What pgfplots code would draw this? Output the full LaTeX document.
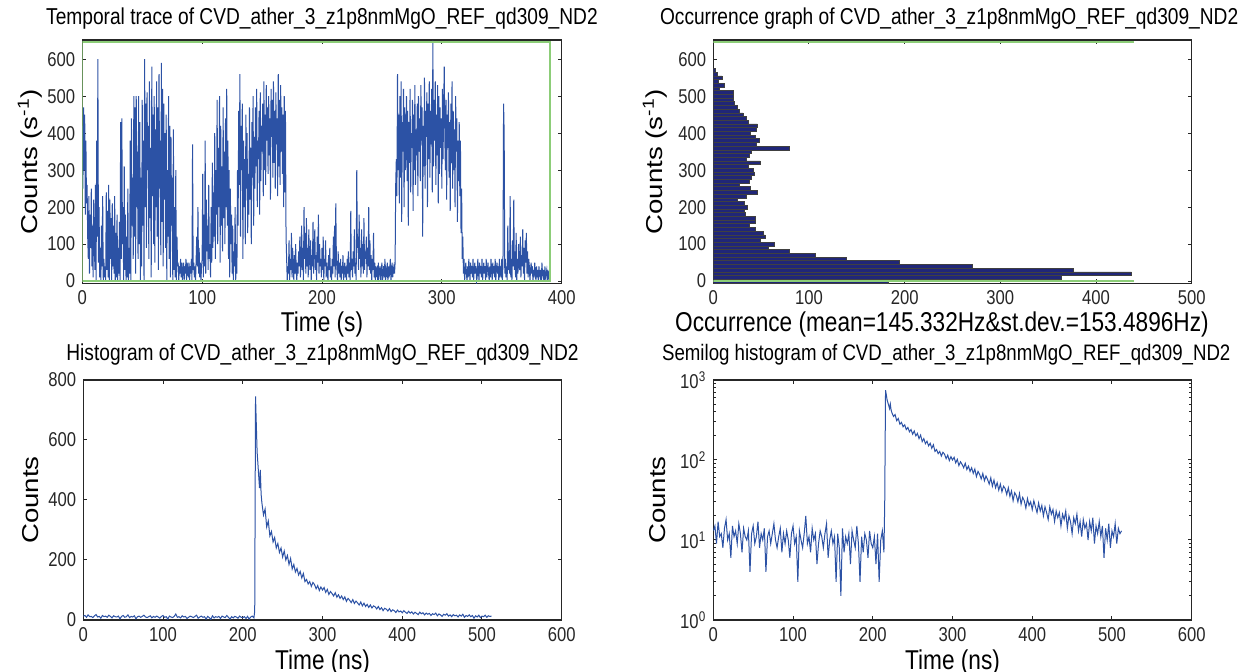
\documentclass[border=0pt]{standalone}
\usepackage{fontspec}
\setmainfont{Liberation Sans}
\newfontfamily\narrowfont[FakeStretch=0.833]{Liberation Sans}
\newfontfamily\widefont[FakeStretch=1.2]{Liberation Sans}
\usepackage{pgfplots}
\usepackage{pgfplotstable}
\pgfplotsset{compat=1.18}
\newcommand\tickfont{\narrowfont\fontsize{10}{12}\selectfont}
\newcommand\titlefont{\narrowfont\fontsize{11.5}{13}\selectfont}
\newcommand\xlabfont{\narrowfont\fontsize{13.6}{16}\selectfont}
\newcommand\ylabfont{\widefont\fontsize{11.5}{13}\selectfont}
\definecolor{traceblue}{RGB}{44,82,165}
\definecolor{barnavy}{RGB}{32,38,120}
\definecolor{mgreen}{RGB}{140,205,120}
\definecolor{axisgray}{RGB}{38,38,38}

\pgfplotstableread[row sep=\\]{
y\\
420\\250\\470\\300\\450\\180\\380\\210\\260\\120\\60\\230\\20\\180\\90\\250\\40\\150\\10\\220\\
130\\30\\260\\0\\380\\120\\600\\50\\200\\10\\90\\0\\150\\40\\230\\0\\60\\10\\40\\0\\
240\\30\\190\\10\\260\\0\\220\\60\\170\\0\\210\\40\\150\\20\\230\\0\\130\\10\\180\\0\\
90\\20\\160\\0\\430\\60\\440\\100\\200\\0\\310\\30\\180\\0\\120\\10\\250\\0\\90\\20\\
380\\0\\440\\150\\280\\60\\500\\120\\470\\20\\500\\200\\350\\60\\500\\100\\430\\0\\280\\40\\
490\\150\\380\\0\\600\\200\\480\\90\\510\\300\\420\\60\\540\\170\\360\\10\\580\\230\\450\\100\\
500\\50\\410\\200\\540\\120\\470\\30\\560\\250\\380\\70\\590\\160\\520\\40\\480\\220\\400\\90\\
450\\0\\300\\120\\500\\60\\420\\10\\390\\150\\280\\0\\410\\30\\200\\10\\300\\0\\120\\40\\
50\\0\\40\\20\\60\\10\\50\\0\\30\\50\\0\\40\\20\\60\\0\\50\\30\\10\\50\\0\\
40\\20\\60\\0\\370\\30\\50\\10\\40\\0\\60\\120\\40\\200\\20\\90\\10\\50\\0\\40\\
60\\290\\10\\180\\40\\380\\20\\220\\80\\150\\30\\260\\60\\100\\10\\200\\50\\320\\90\\240\\
120\\400\\60\\300\\180\\490\\100\\360\\200\\500\\50\\420\\150\\310\\80\\470\\170\\350\\100\\440\\
200\\520\\150\\380\\60\\300\\10\\250\\100\\180\\20\\150\\0\\80\\40\\200\\0\\100\\20\\300\\
150\\460\\260\\560\\120\\420\\300\\480\\60\\380\\200\\330\\100\\450\\250\\400\\130\\290\\180\\470\\
220\\360\\100\\430\\280\\500\\150\\390\\250\\470\\310\\520\\200\\380\\330\\460\\180\\510\\270\\420\\
350\\480\\230\\540\\300\\450\\260\\530\\380\\470\\290\\500\\340\\440\\220\\520\\390\\490\\280\\540\\
320\\460\\250\\510\\370\\440\\230\\560\\310\\490\\260\\530\\350\\470\\290\\450\\200\\500\\240\\460\\
120\\60\\0\\40\\20\\110\\0\\60\\30\\130\\10\\90\\40\\0\\70\\20\\100\\30\\0\\50\\
20\\80\\40\\120\\10\\60\\150\\30\\90\\0\\200\\60\\130\\20\\170\\40\\90\\10\\140\\60\\
30\\110\\0\\70\\40\\160\\20\\90\\140\\30\\70\\0\\120\\50\\180\\20\\100\\40\\60\\10\\
90\\30\\120\\0\\60\\40\\110\\10\\50\\20\\0\\70\\30\\90\\10\\40\\0\\60\\20\\120\\
40\\150\\10\\210\\60\\30\\0\\80\\20\\50\\10\\60\\0\\40\\20\\70\\0\\30\\50\\10\\
40\\0\\60\\20\\80\\10\\50\\0\\190\\30\\60\\10\\80\\40\\140\\20\\50\\0\\300\\90\\
120\\30\\180\\60\\90\\10\\140\\40\\100\\20\\170\\30\\80\\60\\120\\10\\90\\40\\200\\30\\
110\\20\\70\\0\\60\\30\\130\\10\\50\\0\\40\\20\\30\\0\\50\\10\\20\\40\\0\\30\\
50\\0\\20\\40\\10\\60\\0\\30\\20\\50\\0\\40\\10\\30\\60\\0\\20\\50\\10\\30\\
40\\20\\50\\260\\330\\230\\560\\300\\450\\210\\500\\280\\540\\160\\430\\350\\520\\200\\470\\300\\
380\\500\\270\\460\\150\\430\\320\\520\\240\\400\\360\\490\\190\\450\\300\\530\\260\\410\\340\\480\\
230\\500\\350\\440\\270\\530\\380\\470\\120\\420\\310\\550\\250\\460\\390\\510\\200\\480\\330\\540\\
280\\460\\370\\520\\240\\650\\310\\490\\380\\540\\260\\450\\340\\530\\210\\500\\290\\470\\360\\440\\
250\\520\\330\\470\\580\\380\\300\\490\\220\\450\\360\\510\\280\\430\\190\\480\\320\\540\\250\\460\\
300\\410\\200\\500\\350\\440\\160\\380\\270\\430\\230\\380\\130\\250\\60\\120\\20\\60\\0\\30\\
50\\20\\0\\40\\10\\60\\30\\0\\50\\20\\40\\10\\60\\0\\30\\50\\20\\40\\0\\10\\
60\\30\\0\\50\\20\\40\\10\\60\\0\\30\\50\\20\\40\\0\\60\\10\\30\\50\\20\\0\\
40\\10\\60\\30\\0\\50\\20\\40\\10\\60\\0\\30\\50\\20\\40\\0\\60\\10\\30\\20\\
60\\0\\50\\480\\400\\20\\60\\10\\40\\0\\150\\30\\80\\20\\230\\10\\60\\0\\110\\40\\
220\\30\\80\\10\\130\\0\\60\\20\\100\\40\\30\\120\\10\\70\\40\\140\\20\\90\\0\\110\\
50\\130\\20\\80\\10\\60\\40\\0\\30\\50\\20\\40\\0\\30\\10\\50\\20\\0\\40\\10\\
30\\0\\40\\20\\10\\30\\0\\50\\20\\10\\30\\0\\40\\10\\20\\30\\0\\20\\10\\30\\
}\tracedata

\pgfplotstableread{
x y
0 13
2 15
4 9
6 17
8 11
10 12
12 8
14 14
16 18
18 10
20 12
22 6
24 15
26 11
28 13
30 9
32 16
34 12
36 7
38 14
40 11
42 10
44 13
46 4
48 12
50 15
52 9
54 11
56 17
58 8
60 12
62 10
64 14
66 4
68 11
70 13
72 9
74 12
76 16
78 10
80 8
82 11
84 14
86 7
88 12
90 9
92 13
94 10
96 6
98 12
100 15
102 9
104 11
106 3
108 13
110 10
112 8
114 12
116 20
118 9
120 11
122 7
124 14
126 10
128 12
130 5
132 9
134 13
136 11
138 8
140 12
142 16
144 6
146 10
148 13
150 9
152 11
154 3
156 12
158 8
160 2
162 14
164 7
166 11
168 9
170 12
172 5
174 13
176 10
178 8
180 15
182 9
184 3
186 11
188 7
190 12
192 10
194 6
196 13
198 9
200 8
202 11
204 5
206 12
208 3
210 10
212 13
214 7
215 30
216 745
217 650
218 560
219 520
220 480
221 440
222 500
223 420
224 390
226 350
228 370
230 310
232 330
234 280
236 295
238 260
240 275
242 240
244 255
246 225
248 240
250 210
252 230
254 200
256 215
258 185
260 205
262 170
264 185
266 160
268 172
270 150
272 162
274 140
276 155
278 128
280 135
282 120
284 128
286 112
288 125
290 118
292 104
294 115
296 98
298 110
300 100
302 108
304 92
306 102
308 85
310 95
312 88
314 80
316 91
318 76
320 84
322 72
324 80
326 68
328 77
330 62
332 72
334 66
336 58
338 68
340 55
342 63
344 57
346 50
348 60
350 47
352 56
354 45
356 52
358 42
360 50
362 40
364 47
366 44
368 37
370 45
372 35
374 41
376 31
378 39
380 36
382 30
384 38
386 28
388 34
390 31
392 25
394 33
396 27
398 30
400 24
402 31
404 26
406 22
408 29
410 23
412 27
414 20
416 26
418 22
420 18
422 26
424 21
426 24
428 17
430 23
432 19
434 22
436 15
438 21
440 18
442 23
444 14
446 20
448 17
450 12
452 19
454 16
456 21
458 13
460 17
462 11
464 18
466 14
468 16
470 10
472 17
474 13
476 19
478 9
480 15
482 12
484 17
486 11
488 15
490 6
492 14
494 10
496 16
498 8
500 13
502 11
504 16
506 9
508 14
510 12
512 13
}\decaydata

\pgfplotsset{
  mstyle/.style={
    scale only axis,
    axis line style={axisgray, line width=0.6pt},
    tick style={axisgray, line width=0.5pt},
    tick align=inside,
    major tick length=2pt,
    minor tick length=1.3pt,
    tick label style={font=\tickfont, text=axisgray},
    /pgf/number format/assume math mode=true,
    title style={font=\titlefont, text=black, at={(axis description cs:0.5,1.04)}, anchor=center, yshift=0pt},
    xlabel style={font=\xlabfont, text=black, at={(axis description cs:0.5,-0.17)}, anchor=center},
    ylabel style={font=\ylabfont, text=black, anchor=center},
    clip=true,
  }
}

\begin{document}
\begin{tikzpicture}[x=1pt,y=1pt]
\path[use as bounding box] (0,0) rectangle (620,336);

% Top-left: temporal trace
\begin{axis}[mstyle,
  at={(41.15pt,194.35pt)}, anchor=south west,
  width=239.7pt, height=121.65pt,
  xmin=0, xmax=400, ymin=-6, ymax=652,
  xtick={0,100,200,300,400}, ytick={0,100,200,300,400,500,600},
  title={Temporal trace of CVD\_ather\_3\_z1p8nmMgO\_REF\_qd309\_ND2},
  xlabel={Time (s)},
  ylabel={Counts (s\textsuperscript{-1})},
  ylabel style={at={(axis description cs:-0.109,0.5)}},
]
\addplot[traceblue, line width=0.5pt] table[x expr=\coordindex*0.5, y=y] {\tracedata};
\addplot[mgreen, line width=1pt] coordinates {(0,0) (390,0) (390,646) (0,646) (0,0)};
\end{axis}

% Top-right: occurrence graph
\begin{axis}[mstyle,
  at={(356.65pt,194.35pt)}, anchor=south west,
  width=239.2pt, height=121.65pt,
  xmin=0, xmax=500, ymin=-6, ymax=652,
  xtick={0,100,200,300,400,500}, ytick={0,100,200,300,400,500,600},
  title={Occurrence graph of CVD\_ather\_3\_z1p8nmMgO\_REF\_qd309\_ND2},
  title style={at={(axis description cs:0.493,1.04)}},
  xlabel={Occurrence (mean=145.332Hz\&st.dev.=153.4896Hz)},
  xlabel style={at={(axis description cs:0.478,-0.17)}},
  ylabel={Counts (s\textsuperscript{-1})},
  ylabel style={at={(axis description cs:-0.122,0.5)}},
]
\addplot[xbar, bar width=10, fill=barnavy, draw=black!75, line width=0.3pt] coordinates {
(183,0)(364,10)(437,20)(376,30)(271,40)(194,50)(139,60)(107,70)(79,80)(57,90)
(64,100)(49,110)(54,120)(52,130)(44,140)(38,150)(44,160)(44,170)(33,180)(32,190)
(35,200)(32,210)(25,220)(34,230)(46,240)(39,250)(27,260)(38,270)(40,280)(43,290)
(42,300)(37,310)(49,320)(34,330)(38,340)(40,350)(79,360)(45,370)(48,380)(44,390)
(39,400)(45,410)(46,420)(37,430)(34,440)(31,450)(27,460)(25,470)(22,480)(21,490)
(21,500)(21,510)(6,520)(11,530)(5,540)(9,550)(4,560)(2,570)};
\addplot[mgreen, line width=1pt] coordinates {(0,0) (440,0)};
\addplot[mgreen, line width=1pt] coordinates {(0,646) (440,646)};
\end{axis}

% Bottom-left: histogram
\begin{axis}[mstyle,
  at={(41.65pt,26pt)}, anchor=south west,
  width=239.2pt, height=120pt,
  xmin=0, xmax=600, ymin=0, ymax=800,
  xtick={0,100,200,300,400,500,600}, ytick={0,200,400,600,800},
  title={Histogram of CVD\_ather\_3\_z1p8nmMgO\_REF\_qd309\_ND2},
  title style={at={(axis description cs:0.5,1.054)}},
  xlabel={Time (ns)},
  xlabel style={at={(axis description cs:0.5,-0.175)}},
  ylabel={Counts},
  ylabel style={at={(axis description cs:-0.11,0.5)}},
]
\addplot[traceblue, line width=0.5pt] table[x=x, y=y] {\decaydata};
\end{axis}

% Bottom-right: semilog histogram
\begin{axis}[mstyle,
  at={(356.65pt,26pt)}, anchor=south west,
  width=239.2pt, height=120pt,
  xmin=0, xmax=600, ymode=log, ymin=1, ymax=1000,
  xtick={0,100,200,300,400,500,600},
  ytick={1,10,100,1000},
  yticklabels={10\textsuperscript{0},10\textsuperscript{1},10\textsuperscript{2},10\textsuperscript{3}},
  title={Semilog histogram of CVD\_ather\_3\_z1p8nmMgO\_REF\_qd309\_ND2},
  title style={font=\narrowfont\fontsize{11.2}{13}\selectfont, at={(axis description cs:0.487,1.054)}},
  xlabel={Time (ns)},
  xlabel style={at={(axis description cs:0.5,-0.175)}},
  ylabel={Counts},
  ylabel style={at={(axis description cs:-0.117,0.5)}},
]
\addplot[traceblue, line width=0.5pt] table[x=x, y=y] {\decaydata};
\end{axis}
\end{tikzpicture}
\end{document}
